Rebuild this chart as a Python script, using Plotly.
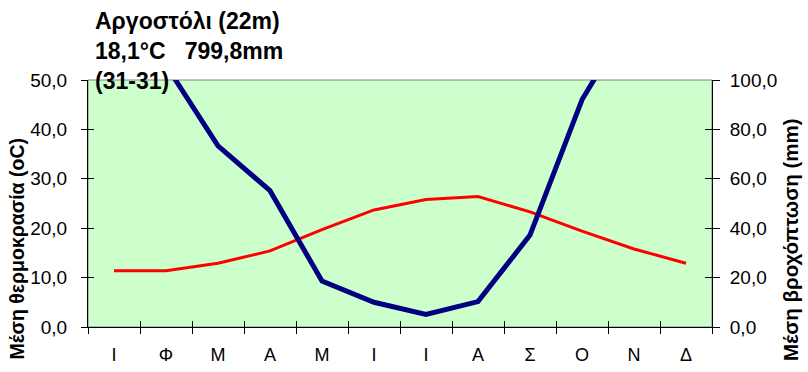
import plotly.graph_objects as go

# ---- data ----
MONTHS = ["Ι", "Φ", "Μ", "Α", "Μ", "Ι", "Ι", "Α", "Σ", "Ο", "Ν", "Δ"]
MONTH_POS = list(range(1, 13))
BOUNDARIES = [0.5 + i for i in range(13)]
TEMP = [11.4, 11.4, 12.9, 15.4, 19.7, 23.7, 25.8, 26.4, 23.3, 19.4, 15.8, 12.9]
PRECIP = [125.0, 106.0, 73.3, 55.2, 18.6, 10.0, 5.1, 10.3, 37.2, 92.0, 127.0, 140.0]
TEMP_TICKS = [0, 10, 20, 30, 40, 50]
PRECIP_TICKS = [0, 20, 40, 60, 80, 100]

TITLE_LINES = ["Αργοστόλι (22m)", "18,1°C\u00a0\u00a0\u00a0799,8mm", "(31-31)"]
Y1_TITLE = "Μέση θερμοκρασία (oC)"
Y2_TITLE = "Μέση βροχόπτωση (mm)"

FONT = "Liberation Sans, Arial, sans-serif"
W, H = 808, 372
L, R, T, B = 88, 96, 80, 45
PW, PH = W - L - R, H - T - B


def px_x(x):
    return (x - L) / PW


def px_y(y):
    return (H - B - y) / PH


fig = go.Figure()

fig.add_trace(go.Scatter(
    x=MONTH_POS, y=TEMP, mode="lines",
    line=dict(color="#FF0000", width=3),
    xaxis="x", yaxis="y", showlegend=False, hoverinfo="skip"))

fig.add_trace(go.Scatter(
    x=MONTH_POS, y=PRECIP, mode="lines",
    line=dict(color="#000080", width=5),
    xaxis="x", yaxis="y2", showlegend=False, hoverinfo="skip"))

# dummy traces to realise inside tick halves
fig.add_trace(go.Scatter(x=[None], y=[None], xaxis="x2", yaxis="y3",
                         showlegend=False, hoverinfo="skip"))
fig.add_trace(go.Scatter(x=[None], y=[None], xaxis="x", yaxis="y4",
                         showlegend=False, hoverinfo="skip"))

tickfont = dict(family=FONT, size=19, color="black")

fig.update_layout(
    template="none",
    width=W, height=H, autosize=False,
    margin=dict(l=L, r=R, t=T, b=B, pad=0, autoexpand=False),
    paper_bgcolor="white",
    plot_bgcolor="#CCFFCC",
    separators=",.",
    font=dict(family=FONT, color="black"),
    xaxis=dict(
        automargin=False,
        range=[0.5, 12.5], tickmode="array", tickvals=MONTH_POS, ticktext=MONTHS,
        ticks="", showgrid=False, zeroline=False,
        showline=True, linecolor="black", linewidth=1,
        tickfont=dict(family=FONT, size=18, color="black"),
        ticklabelstandoff=11,
        minor=dict(tickmode="array", tickvals=BOUNDARIES, ticks="outside",
                   ticklen=6, tickcolor="black", tickwidth=1, showgrid=False),
    ),
    xaxis2=dict(
        automargin=False,
        overlaying="x", anchor="y", side="bottom",
        range=[0.5, 12.5], tickmode="array", tickvals=BOUNDARIES,
        ticks="inside", ticklen=6, tickcolor="black",
        showticklabels=False, showgrid=False, zeroline=False, showline=False,
    ),
    yaxis=dict(
        automargin=False,
        range=[0, 50], tickmode="array", tickvals=TEMP_TICKS, tickformat=".1f",
        ticks="outside", ticklen=6, tickcolor="black",
        showgrid=False, zeroline=False,
        showline=True, linecolor="black", linewidth=1,
        tickfont=tickfont, ticklabelstandoff=10,
    ),
    yaxis3=dict(
        automargin=False,
        overlaying="y", anchor="x", side="left",
        range=[0, 50], tickmode="array", tickvals=TEMP_TICKS,
        ticks="inside", ticklen=6, tickcolor="black",
        showticklabels=False, showgrid=False, zeroline=False, showline=False,
    ),
    yaxis2=dict(
        automargin=False,
        overlaying="y", anchor="x", side="right",
        range=[0, 100], tickmode="array", tickvals=PRECIP_TICKS, tickformat=".1f",
        ticks="outside", ticklen=7, tickcolor="black",
        showgrid=False, zeroline=False,
        showline=True, linecolor="black", linewidth=1,
        tickfont=tickfont, ticklabelstandoff=6,
    ),
    yaxis4=dict(
        automargin=False,
        overlaying="y", anchor="x", side="right",
        range=[0, 100], tickmode="array", tickvals=PRECIP_TICKS,
        ticks="inside", ticklen=7, tickcolor="black",
        showticklabels=False, showgrid=False, zeroline=False, showline=False,
    ),
    shapes=[dict(type="rect", xref="paper", yref="paper", x0=0, x1=1, y0=0, y1=1,
                 line=dict(color="#808080", width=1), fillcolor="rgba(0,0,0,0)",
                 layer="below")],
)

fig.add_annotation(
    text="<br>".join(TITLE_LINES), xref="paper", yref="paper",
    x=px_x(93), y=px_y(6), xanchor="left", yanchor="top", align="left",
    showarrow=False,
    font=dict(family=FONT, size=23, color="black", weight="bold"))

fig.add_annotation(
    text=Y1_TITLE, xref="paper", yref="paper",
    x=px_x(16.5), y=px_y(249), xanchor="center", yanchor="middle",
    textangle=-90, showarrow=False,
    font=dict(family=FONT, size=19.5, color="black", weight="bold"))

fig.add_annotation(
    text=Y2_TITLE, xref="paper", yref="paper",
    x=px_x(790), y=px_y(240), xanchor="center", yanchor="middle",
    textangle=-90, showarrow=False,
    font=dict(family=FONT, size=20.5, color="black", weight="bold"))

fig.write_html(
    "out.html",
    config={"displayModeBar": False, "staticPlot": True},
    post_script="document.body.style.margin='0';document.body.style.overflow='hidden';",
)
